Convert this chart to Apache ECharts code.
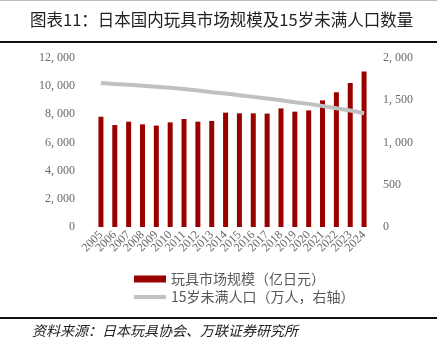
<!DOCTYPE html>
<html><head><meta charset="utf-8">
<script src="https://cdn.jsdelivr.net/npm/echarts@6/dist/echarts.min.js"></script>
<style>html,body{margin:0;padding:0;background:#fff}#c{width:437px;height:355px}</style>
</head><body><div id="c"></div>
<script>
const years = ['2005','2006','2007','2008','2009','2010','2011','2012','2013','2014','2015','2016','2017','2018','2019','2020','2021','2022','2023','2024'];
const toyMarket = [7830,7240,7480,7290,7200,7430,7670,7480,7530,8120,8070,8070,8050,8420,8190,8280,8990,9560,10220,11050];
const under15 = [1703,1691,1683,1671,1659,1647,1632,1615,1596,1580,1560,1540,1520,1501,1477,1457,1433,1406,1378,1347];
const leftTicks = [0,2000,4000,6000,8000,10000,12000];
const rightTicks = [0,500,1000,1500,2000];

const fmt = v => v.toLocaleString('en-US').replace(',', ', ');
const serif = '"Liberation Serif","DejaVu Serif","Noto Sans CJK SC",serif';
const cjk = '"Noto Sans CJK SC",sans-serif';
const chart = echarts.init(document.getElementById('c'));
chart.setOption({
  animation: false,
  grid: {left: 94, right: 66, top: 58, bottom: 128},
  xAxis: {
    type: 'category', data: years,
    axisLine: {show: false}, axisTick: {show: false},
    axisLabel: {rotate: 45, color: '#6a6a6a', fontFamily: serif, fontSize: 12, margin: 6, interval: 0}
  },
  yAxis: [
    {type: 'value', min: leftTicks[0], max: leftTicks[leftTicks.length-1], interval: 2000,
     splitLine: {show: false}, axisLine: {show: false}, axisTick: {show: false},
     axisLabel: {color: '#6a6a6a', fontFamily: serif, fontSize: 12, margin: 19, formatter: fmt}},
    {type: 'value', min: rightTicks[0], max: rightTicks[rightTicks.length-1], interval: 500,
     splitLine: {show: false}, axisLine: {show: false}, axisTick: {show: false},
     axisLabel: {color: '#6a6a6a', fontFamily: serif, fontSize: 12, margin: 12, formatter: fmt}}
  ],
  legend: {
    orient: 'vertical', left: 129, top: 267, itemGap: 4, itemWidth: 32, itemHeight: 7,
    symbolKeepAspect: true,
    textStyle: {color: '#595959', fontFamily: cjk, fontSize: 14},
    data: [
      {name: '玩具市场规模（亿日元）', icon: 'rect'},
      {name: '15岁未满人口（万人，右轴）', icon: 'path://M0,0h32v4h-32z', itemStyle: {color: '#c0c0c0'}}
    ]
  },
  series: [
    {name: '玩具市场规模（亿日元）', type: 'bar', data: toyMarket, barWidth: 5,
     itemStyle: {color: '#990000'}},
    {name: '15岁未满人口（万人，右轴）', type: 'line', yAxisIndex: 1, data: under15,
     symbol: 'none', lineStyle: {color: '#c0c0c0', width: 4}, itemStyle: {color: '#c0c0c0'}}
  ],
  graphic: [
    {type: 'rect', shape: {x: 0, y: 0, width: 437, height: 1}, style: {fill: '#bbb'}},
    {type: 'text', left: 30, top: 11, style: {text: '图表11：日本国内玩具市场规模及15岁未满人口数量', font: '16.5px ' + cjk, fill: '#222'}},
    {type: 'rect', shape: {x: 0, y: 41, width: 437, height: 2}, style: {fill: '#111'}},
    {type: 'rect', shape: {x: 0, y: 317, width: 437, height: 2}, style: {fill: '#111'}},
    {type: 'text', left: 32, top: 324, style: {text: '资料来源：日本玩具协会、万联证券研究所', font: 'italic 14px ' + cjk, fill: '#222'}}
  ]
});
</script></body></html>
